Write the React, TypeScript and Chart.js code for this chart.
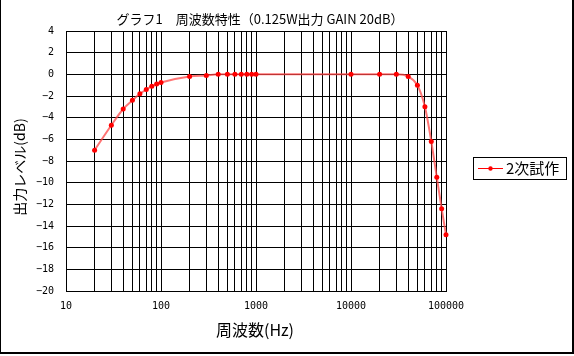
import { useEffect, useRef } from "react";
import { Chart, registerables } from "chart.js";

Chart.register(...registerables);

const TITLE = "グラフ1　周波数特性（0.125W出力 GAIN 20dB）";
const X_TITLE = "周波数(Hz)";
const Y_TITLE = "出力レベル(dB)";
const SERIES_NAME = "2次試作";

const FREQUENCIES = [
  20, 30, 40, 50, 60, 70, 80, 90, 100, 200, 300, 400, 500, 600, 700, 800, 900,
  1000, 10000, 20000, 30000, 40000, 50000, 60000, 70000, 80000, 90000, 100000,
];
const LEVELS = [
  -7.0, -4.7, -3.2, -2.4, -1.8, -1.4, -1.1, -0.9, -0.75, -0.2, -0.1, 0, 0, 0, 0,
  0, 0, 0, 0, 0, 0, -0.2, -1.0, -3.0, -6.2, -9.5, -12.4, -14.8,
];

const X_DECADES = [10, 100, 1000, 10000];
const X_MULTIPLIERS = [1, 2, 3, 4, 5, 6, 7, 8, 9];
const X_LABELS = [10, 100, 1000, 10000, 100000];
const X_MIN = 10;
const X_MAX = 100000;
const Y_MIN = -20;
const Y_MAX = 4;
const Y_STEP = 2;

const X_GRID = [
  ...X_DECADES.flatMap((d) => X_MULTIPLIERS.map((m) => m * d)),
  X_MAX,
];

const CJK = '"Noto Sans CJK JP", "Noto Sans", sans-serif';
const TICK_FONT = '"DejaVu Sans Mono", monospace';

const decorPlugin = {
  id: "decor",
  afterDraw(chart: any) {
    const ctx = chart.ctx as CanvasRenderingContext2D;
    ctx.save();
    ctx.fillStyle = "#000";
    ctx.textAlign = "center";
    ctx.textBaseline = "middle";
    // main title
    ctx.font = `13px ${CJK}`;
    ctx.fillText(TITLE, 260, 19.5);
    // x axis title
    ctx.font = `16px ${CJK}`;
    ctx.fillText(X_TITLE, 255, 330);
    // y axis title
    ctx.save();
    ctx.translate(20, 167);
    ctx.rotate(-Math.PI / 2);
    ctx.font = `14px ${CJK}`;
    ctx.fillText(Y_TITLE, 0, 0);
    ctx.restore();

    // legend box
    ctx.strokeStyle = "#000";
    ctx.lineWidth = 1;
    ctx.strokeRect(473.5, 157.5, 93, 22);
    ctx.strokeStyle = "#ff0000";
    ctx.beginPath();
    ctx.moveTo(478, 168.5);
    ctx.lineTo(503, 168.5);
    ctx.stroke();
    ctx.fillStyle = "#ff0000";
    ctx.beginPath();
    ctx.arc(490.5, 168.5, 2.2, 0, Math.PI * 2);
    ctx.fill();
    ctx.fillStyle = "#000";
    ctx.textAlign = "left";
    ctx.font = `15px ${CJK}`;
    ctx.fillText(SERIES_NAME, 506, 168.5);

    // outer frame
    ctx.fillStyle = "#000";
    ctx.fillRect(0, 0, 1, 353);
    ctx.fillRect(572, 0, 2, 354);
    ctx.fillRect(0, 352, 574, 2);
    ctx.restore();
  },
};

export default function App() {
  const ref = useRef<HTMLCanvasElement | null>(null);

  useEffect(() => {
    document.body.style.margin = "0";
    const canvas = ref.current;
    if (!canvas) return;
    const chart = new Chart(canvas, {
      type: "line",
      data: {
        datasets: [
          {
            label: SERIES_NAME,
            data: FREQUENCIES.map((f, i) => ({ x: f, y: LEVELS[i] })),
            borderColor: "rgba(255, 70, 70, 0.75)",
            borderWidth: 2,
            pointBackgroundColor: "#ff0000",
            pointBorderColor: "#ff0000",
            pointRadius: 2.5,
            pointBorderWidth: 0,
            cubicInterpolationMode: "monotone",
            clip: false as any,
          },
        ],
      },
      options: {
        responsive: false,
        animation: false,
        layout: { padding: { top: 31, right: 128, left: 0, bottom: 0 } },
        plugins: {
          legend: { display: false },
          title: { display: false },
          tooltip: { enabled: false },
        },
        scales: {
          x: {
            type: "logarithmic",
            min: X_MIN,
            max: X_MAX,
            afterBuildTicks: (s: any) => {
              s.ticks = X_GRID.map((v) => ({ value: v }));
            },
            afterFit: (s: any) => {
              s.height = 65;
            },
            ticks: {
              autoSkip: false,
              maxRotation: 0,
              minRotation: 0,
              padding: 9,
              color: "#000",
              font: { family: TICK_FONT, size: 10 },
              callback: (v: any) => (X_LABELS.includes(Number(v)) ? String(v) : ""),
            },
            grid: { color: "#000", lineWidth: 1, drawTicks: false },
            border: { color: "#000", width: 1 },
          },
          y: {
            type: "linear",
            min: Y_MIN,
            max: Y_MAX,
            afterFit: (s: any) => {
              s.width = 66;
            },
            ticks: {
              stepSize: Y_STEP,
              padding: 12,
              color: "#000",
              font: { family: TICK_FONT, size: 10 },
              callback: (v: any) =>
                Number(v) < 0 ? "\u2212" + Math.abs(Number(v)) : String(v),
            },
            grid: { color: "#000", lineWidth: 1, drawTicks: false },
            border: { color: "#000", width: 1 },
          },
        },
      },
      plugins: [decorPlugin],
    });
    return () => chart.destroy();
  }, []);

  return (
    <div style={{ width: 574, height: 356, position: "relative", background: "#fff" }}>
      <canvas ref={ref} width={574} height={356} style={{ display: "block" }} />
    </div>
  );
}
